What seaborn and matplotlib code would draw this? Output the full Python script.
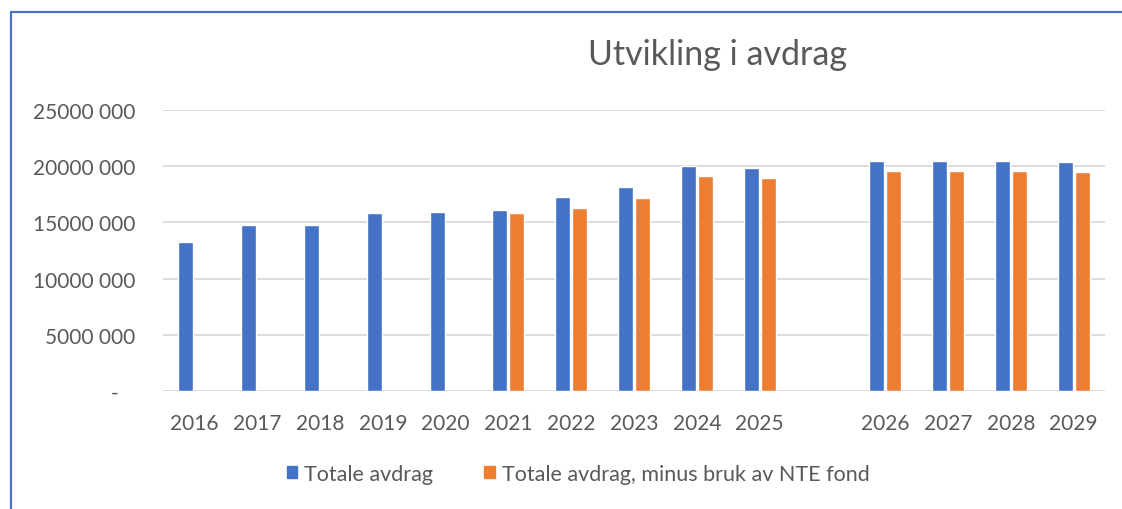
import matplotlib.pyplot as plt
import matplotlib.ticker as mticker
import numpy as np
import pandas as pd
import seaborn as sns
from matplotlib.lines import Line2D

# data
aar = ["2016", "2017", "2018", "2019", "2020", "2021", "2022", "2023", "2024", "2025",
       " ", "2026", "2027", "2028", "2029"]
totale_avdrag = [13250000, 14750000, 14800000, 15800000, 15930000, 16130000, 17230000,
                 18130000, 20060000, 19880000, np.nan, 20500000, 20500000, 20500000, 20330000]
minus_nte = [np.nan, np.nan, np.nan, np.nan, np.nan, 15840000, 16310000, 17200000,
             19170000, 18960000, np.nan, 19600000, 19600000, 19600000, 19440000]
serie_navn = ["Totale avdrag", "Totale avdrag, minus bruk av NTE fond"]
farger = ["#4472C4", "#ED7D31"]

df = pd.DataFrame({
    "år": aar * 2,
    "beløp": totale_avdrag + minus_nte,
    "serie": [serie_navn[0]] * len(aar) + [serie_navn[1]] * len(aar),
})

sns.set_style("white")
plt.rcParams["font.family"] = ["Lato", "DejaVu Sans"]
tekstfarge = "#595959"

fig = plt.figure(figsize=(11.22, 5.10), dpi=100)
ax = fig.add_axes([163 / 1122, 1 - 392 / 510, (1105 - 163) / 1122, (392 - 111) / 510])

sns.barplot(data=df, x="år", y="beløp", hue="serie", order=aar, hue_order=serie_navn,
            palette=farger, width=0.54, gap=0.12, saturation=1, legend=False, ax=ax)

ax.set_ylim(0, 25000000)
ax.set_xlim(-0.5, len(aar) - 0.5)
ax.set_yticks(np.arange(0, 25000001, 5000000))


# Excel-format: "25000 000", null vises som "-"
def fmt(v, pos):
    v = int(round(v))
    if v == 0:
        return "-   "
    return f"{v // 1000} {v % 1000:03d}"


ax.yaxis.set_major_formatter(mticker.FuncFormatter(fmt))
ax.grid(axis="y", color="#D9D9D9", linewidth=1.3)
ax.set_axisbelow(True)
for s in ax.spines.values():
    s.set_visible(False)
ax.tick_params(axis="both", length=0, labelsize=15, colors=tekstfarge)
ax.tick_params(axis="x", pad=16)
ax.tick_params(axis="y", pad=20)
ax.set_xlabel("")
ax.set_ylabel("")

fig.text(718 / 1122, 1 - 55 / 510, "Utvikling i avdrag", fontsize=24.5, color=tekstfarge,
         ha="center", va="center")

handles = [plt.Rectangle((0, 0), 1, 1, color=c) for c in farger]
fig.legend(handles, serie_navn, loc="center", bbox_to_anchor=(578 / 1122, 1 - 475 / 510),
           ncol=2, frameon=False, fontsize=15.5, labelcolor=tekstfarge,
           handlelength=0.5, handleheight=0.5, handletextpad=0.3, columnspacing=2.4)

# blå ramme rundt diagrammet (topp og venstre synlig)
ramme = "#4472C4"
fig.add_artist(Line2D([10.5 / 1122, 10.5 / 1122], [0, 1 - 13 / 510], color=ramme, lw=1.6,
                      transform=fig.transFigure))
fig.add_artist(Line2D([10.5 / 1122, 1], [1 - 13 / 510, 1 - 13 / 510], color=ramme, lw=1.6,
                      transform=fig.transFigure))

fig.savefig("out.png", dpi=100)
